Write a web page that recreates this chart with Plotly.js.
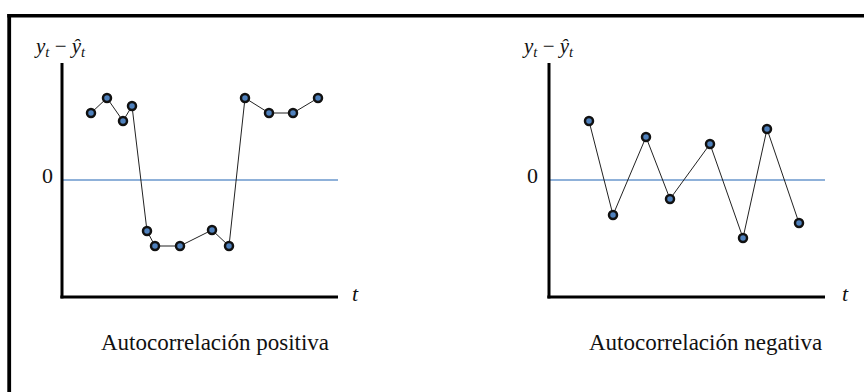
<!DOCTYPE html>
<html>
<head>
<meta charset="utf-8">
<script src="https://cdn.plot.ly/plotly-3.0.1.min.js"></script>
<style>
  html, body { margin: 0; padding: 0; background: #ffffff; }
  #chart { width: 864px; height: 392px; }
</style>
</head>
<body>
<div id="chart"></div>
<script>
// Residuals over time: positive autocorrelation (left) and negative autocorrelation (right)
const periodoPositiva = [2.9, 4.5, 6.1, 7.0, 8.5, 9.3, 11.8, 15.0, 16.7, 18.3, 20.7, 23.1, 25.6];
const residuoPositiva = [6.7, 8.2, 5.9, 7.4, -5.1, -6.6, -6.6, -5.0, -6.6, 8.2, 6.7, 6.7, 8.2];

const periodoNegativa = [4.0, 6.4, 9.7, 12.1, 16.1, 19.4, 21.8, 25.0];
const residuoNegativa = [5.9, -3.5, 4.3, -1.9, 3.6, -5.8, 5.1, -4.3];

const tituloEjeY = '<i>y</i><sub><i>t</i></sub> \u2212 <i>\u0177</i><sub><i>t</i></sub>';
const etiquetaCero = '0';
const etiquetaTiempo = '<i>t</i>';
const leyendas = ['Autocorrelación positiva', 'Autocorrelación negativa'];

const W = 864, H = 392;
const SERIF = '"Liberation Serif", "Times New Roman", "DejaVu Serif", serif';

const px = v => v / W;
const py = v => 1 - v / H;

const marcador = {
  size: 8,
  color: '#4f81bd',
  line: { color: '#111111', width: 2.5 }
};
const linea = { color: '#222222', width: 1 };

const traces = [
  {
    x: periodoPositiva, y: residuoPositiva,
    xaxis: 'x', yaxis: 'y',
    type: 'scatter', mode: 'lines+markers',
    line: linea, marker: marcador,
    hoverinfo: 'skip', showlegend: false
  },
  {
    x: periodoNegativa, y: residuoNegativa,
    xaxis: 'x2', yaxis: 'y2',
    type: 'scatter', mode: 'lines+markers',
    line: linea, marker: marcador,
    hoverinfo: 'skip', showlegend: false
  }
];

const ejeX = dom => ({
  domain: dom,
  range: [0, 27.6],
  showgrid: false, zeroline: false, showline: false,
  showticklabels: false, ticks: '', fixedrange: true
});
const ejeY = anchor => ({
  domain: [1 - 297 / H, 1 - 63 / H],
  range: [-11.7, 11.7],
  anchor: anchor,
  showgrid: false, showline: false,
  zeroline: true, zerolinecolor: '#8fb1d9', zerolinewidth: 1.5,
  showticklabels: false, ticks: '', fixedrange: true
});

// Axis frames drawn along each panel's left and bottom edges
function ejes(xr, yr) {
  return [
    { type: 'line', xref: xr + ' domain', yref: yr + ' domain',
      x0: 0, x1: 0, y0: -0.006, y1: 1, line: { color: '#000', width: 3 } },
    { type: 'line', xref: xr + ' domain', yref: yr + ' domain',
      x0: -0.006, x1: 1, y0: 0, y1: 0, line: { color: '#000', width: 3 } }
  ];
}

const shapes = [
  // outer border (top and left edges)
  { type: 'line', xref: 'paper', yref: 'paper',
    x0: px(7.3), x1: 1, y0: py(15.7), y1: py(15.7), line: { color: '#000', width: 3.6 } },
  { type: 'line', xref: 'paper', yref: 'paper',
    x0: px(9.2), x1: px(9.2), y0: 0, y1: py(14), line: { color: '#000', width: 3.8 } },
  ...ejes('x', 'y'),
  ...ejes('x2', 'y2')
];

function texto(t, x, y, size) {
  return {
    text: t, xref: 'paper', yref: 'paper',
    x: px(x), y: py(y), xanchor: 'center', yanchor: 'middle',
    showarrow: false,
    font: { family: SERIF, size: size, color: '#111111' }
  };
}

const annotations = [
  texto(tituloEjeY, 60, 47, 21),
  texto(tituloEjeY, 548, 47, 21),
  texto(etiquetaCero, 47, 175, 22),
  texto(etiquetaCero, 532, 175, 22),
  texto(etiquetaTiempo, 355, 293, 22),
  texto(etiquetaTiempo, 845, 293, 22),
  texto(leyendas[0], 215, 342, 23),
  texto(leyendas[1], 705, 342, 23)
];

const layout = {
  width: W, height: H,
  margin: { l: 0, r: 0, t: 0, b: 0, pad: 0 },
  paper_bgcolor: '#ffffff', plot_bgcolor: 'rgba(0,0,0,0)',
  font: { family: SERIF },
  showlegend: false,
  xaxis: ejeX([62 / W, 338 / W]),
  yaxis: ejeY('x'),
  xaxis2: ejeX([549 / W, 825 / W]),
  yaxis2: ejeY('x2'),
  shapes: shapes,
  annotations: annotations
};

Plotly.newPlot('chart', traces, layout, { displayModeBar: false, staticPlot: true });
</script>
</body>
</html>
